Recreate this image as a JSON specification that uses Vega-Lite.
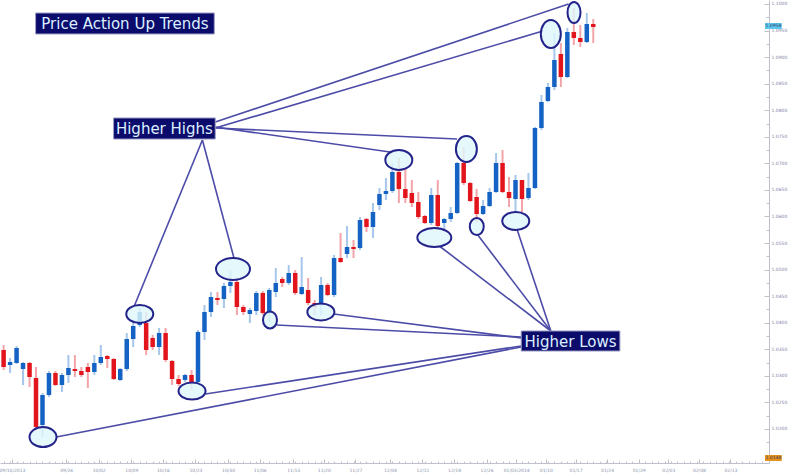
{
  "$schema": "https://vega.github.io/schema/vega-lite/v6.json",
  "width": 769,
  "height": 463,
  "autosize": "none",
  "padding": {"left": 0, "top": 0, "right": 37, "bottom": 12},
  "background": "white",
  "config": {
    "view": {"stroke": null},
    "axis": {"grid": false, "domainColor": "#c0c0cc", "tickColor": "#c0c0cc", "labelFont": "DejaVu Sans", "labelFontSize": 4.5, "title": null}
  },
  "resolve": {"axis": {"x": "independent", "y": "independent"}},
  "datasets": {
    "candles": [
      {"day":1,"open":1.03486,"high":1.03580,"low":1.03110,"close":1.03166},
      {"day":2,"open":1.03204,"high":1.03336,"low":1.03053,"close":1.03260},
      {"day":3,"open":1.03242,"high":1.03562,"low":1.03223,"close":1.03524},
      {"day":4,"open":1.03129,"high":1.03260,"low":1.02827,"close":1.03242},
      {"day":5,"open":1.03242,"high":1.03260,"low":1.02790,"close":1.02978},
      {"day":6,"open":1.02959,"high":1.03166,"low":1.02018,"close":1.02037},
      {"day":7,"open":1.02074,"high":1.02677,"low":1.01848,"close":1.02639},
      {"day":8,"open":1.02639,"high":1.03091,"low":1.02602,"close":1.03053},
      {"day":9,"open":1.03053,"high":1.03091,"low":1.02809,"close":1.02827},
      {"day":10,"open":1.02827,"high":1.03053,"low":1.02696,"close":1.03016},
      {"day":11,"open":1.03016,"high":1.03392,"low":1.02865,"close":1.03147},
      {"day":12,"open":1.03129,"high":1.03392,"low":1.02978,"close":1.03091},
      {"day":13,"open":1.03091,"high":1.03166,"low":1.02978,"close":1.03016},
      {"day":14,"open":1.03166,"high":1.03242,"low":1.02771,"close":1.03072},
      {"day":15,"open":1.03072,"high":1.03392,"low":1.03016,"close":1.03242},
      {"day":16,"open":1.03242,"high":1.03580,"low":1.03204,"close":1.03355},
      {"day":17,"open":1.03373,"high":1.03392,"low":1.03147,"close":1.03317},
      {"day":18,"open":1.03317,"high":1.03336,"low":1.02922,"close":1.02940},
      {"day":19,"open":1.02922,"high":1.03147,"low":1.02903,"close":1.03129},
      {"day":20,"open":1.03129,"high":1.03806,"low":1.03091,"close":1.03693},
      {"day":21,"open":1.03693,"high":1.04051,"low":1.03543,"close":1.03938},
      {"day":22,"open":1.03957,"high":1.04277,"low":1.03919,"close":1.04202},
      {"day":23,"open":1.03995,"high":1.04202,"low":1.03392,"close":1.03486},
      {"day":24,"open":1.03712,"high":1.03769,"low":1.03486,"close":1.03543},
      {"day":25,"open":1.03543,"high":1.03900,"low":1.03392,"close":1.03806},
      {"day":26,"open":1.03806,"high":1.03900,"low":1.03260,"close":1.03298},
      {"day":27,"open":1.03279,"high":1.03298,"low":1.02827,"close":1.02940},
      {"day":28,"open":1.02940,"high":1.03016,"low":1.02809,"close":1.02846},
      {"day":29,"open":1.02922,"high":1.03034,"low":1.02884,"close":1.03016},
      {"day":30,"open":1.03016,"high":1.03110,"low":1.02733,"close":1.02884},
      {"day":31,"open":1.02884,"high":1.03863,"low":1.02865,"close":1.03825},
      {"day":32,"open":1.03825,"high":1.04333,"low":1.03675,"close":1.04202},
      {"day":33,"open":1.04202,"high":1.04578,"low":1.04108,"close":1.04484},
      {"day":34,"open":1.04465,"high":1.04578,"low":1.04333,"close":1.04428},
      {"day":35,"open":1.04446,"high":1.04748,"low":1.04277,"close":1.04691},
      {"day":36,"open":1.04691,"high":1.04992,"low":1.04559,"close":1.04766},
      {"day":37,"open":1.04766,"high":1.04861,"low":1.04145,"close":1.04296},
      {"day":38,"open":1.04296,"high":1.04333,"low":1.04145,"close":1.04202},
      {"day":39,"open":1.04164,"high":1.04277,"low":1.03995,"close":1.04239},
      {"day":40,"open":1.04220,"high":1.04597,"low":1.04145,"close":1.04559},
      {"day":41,"open":1.04559,"high":1.04597,"low":1.04145,"close":1.04183},
      {"day":42,"open":1.04183,"high":1.04653,"low":1.04013,"close":1.04616},
      {"day":43,"open":1.04578,"high":1.05030,"low":1.04484,"close":1.04748},
      {"day":44,"open":1.04823,"high":1.04861,"low":1.04672,"close":1.04748},
      {"day":45,"open":1.04748,"high":1.05086,"low":1.04710,"close":1.04936},
      {"day":46,"open":1.04936,"high":1.04992,"low":1.04522,"close":1.04559},
      {"day":47,"open":1.04540,"high":1.05237,"low":1.04522,"close":1.04672},
      {"day":48,"open":1.04616,"high":1.04842,"low":1.04333,"close":1.04371},
      {"day":49,"open":1.04371,"high":1.04428,"low":1.04145,"close":1.04296},
      {"day":50,"open":1.04333,"high":1.04861,"low":1.04145,"close":1.04710},
      {"day":51,"open":1.04710,"high":1.04748,"low":1.04503,"close":1.04522},
      {"day":52,"open":1.04522,"high":1.05275,"low":1.04484,"close":1.05218},
      {"day":53,"open":1.05218,"high":1.05689,"low":1.05124,"close":1.05143},
      {"day":54,"open":1.05293,"high":1.05821,"low":1.05218,"close":1.05425},
      {"day":55,"open":1.05425,"high":1.05557,"low":1.05218,"close":1.05388},
      {"day":56,"open":1.05406,"high":1.05990,"low":1.05369,"close":1.05934},
      {"day":57,"open":1.05952,"high":1.05971,"low":1.05708,"close":1.05802},
      {"day":58,"open":1.05802,"high":1.06254,"low":1.05595,"close":1.06084},
      {"day":59,"open":1.06216,"high":1.06536,"low":1.06122,"close":1.06423},
      {"day":60,"open":1.06423,"high":1.06724,"low":1.06310,"close":1.06479},
      {"day":61,"open":1.06479,"high":1.07007,"low":1.06442,"close":1.06837},
      {"day":62,"open":1.06837,"high":1.07101,"low":1.06254,"close":1.06517},
      {"day":63,"open":1.06517,"high":1.06912,"low":1.06254,"close":1.06348},
      {"day":64,"open":1.06442,"high":1.06687,"low":1.06178,"close":1.06254},
      {"day":65,"open":1.06272,"high":1.06461,"low":1.05952,"close":1.05990},
      {"day":66,"open":1.06009,"high":1.06028,"low":1.05858,"close":1.05877},
      {"day":67,"open":1.05877,"high":1.06536,"low":1.05839,"close":1.06404},
      {"day":68,"open":1.06404,"high":1.06687,"low":1.05764,"close":1.05821},
      {"day":69,"open":1.05877,"high":1.05971,"low":1.05745,"close":1.05952},
      {"day":70,"open":1.05952,"high":1.06178,"low":1.05896,"close":1.06065},
      {"day":71,"open":1.06065,"high":1.07025,"low":1.06046,"close":1.07007},
      {"day":72,"open":1.07007,"high":1.07308,"low":1.06592,"close":1.06630},
      {"day":73,"open":1.06630,"high":1.06649,"low":1.06272,"close":1.06291},
      {"day":74,"open":1.06367,"high":1.06517,"low":1.05896,"close":1.06046},
      {"day":75,"open":1.06046,"high":1.06310,"low":1.06028,"close":1.06197},
      {"day":76,"open":1.06197,"high":1.06536,"low":1.06178,"close":1.06461},
      {"day":77,"open":1.06461,"high":1.07195,"low":1.06442,"close":1.07007},
      {"day":78,"open":1.07007,"high":1.07251,"low":1.06442,"close":1.06461},
      {"day":79,"open":1.06461,"high":1.06743,"low":1.06178,"close":1.06348},
      {"day":80,"open":1.06329,"high":1.06781,"low":1.06084,"close":1.06687},
      {"day":81,"open":1.06687,"high":1.06687,"low":1.06084,"close":1.06329},
      {"day":82,"open":1.06348,"high":1.06818,"low":1.06310,"close":1.06536},
      {"day":83,"open":1.06536,"high":1.07684,"low":1.06517,"close":1.07665},
      {"day":84,"open":1.07665,"high":1.08287,"low":1.07628,"close":1.08155},
      {"day":85,"open":1.08174,"high":1.08513,"low":1.08155,"close":1.08437},
      {"day":86,"open":1.08437,"high":1.09454,"low":1.08381,"close":1.08946},
      {"day":87,"open":1.09058,"high":1.09266,"low":1.08437,"close":1.08626},
      {"day":88,"open":1.08626,"high":1.09548,"low":1.08607,"close":1.09473},
      {"day":89,"open":1.09473,"high":1.09924,"low":1.09228,"close":1.09360},
      {"day":90,"open":1.09360,"high":1.09604,"low":1.09190,"close":1.09284},
      {"day":91,"open":1.09284,"high":1.09830,"low":1.09266,"close":1.09623},
      {"day":92,"open":1.09623,"high":1.09717,"low":1.09266,"close":1.09567}
    ],
    "lines": [
      {"group":"Higher Highs","from_day":31.68,"from_price":1.07440,"to_day":21.17,"to_price":1.04315},
      {"group":"Higher Highs","from_day":31.68,"from_price":1.07440,"to_day":36.55,"to_price":1.05218},
      {"group":"Higher Highs","from_day":33.66,"from_price":1.07684,"to_day":60.62,"to_price":1.07214},
      {"group":"Higher Highs","from_day":33.66,"from_price":1.07665,"to_day":70.98,"to_price":1.07458},
      {"group":"Higher Highs","from_day":33.66,"from_price":1.07665,"to_day":84.23,"to_price":1.09491},
      {"group":"Higher Highs","from_day":33.66,"from_price":1.07778,"to_day":88.19,"to_price":1.10000},
      {"group":"Higher Lows","from_day":80.88,"from_price":1.03543,"to_day":9.13,"to_price":1.01848},
      {"group":"Higher Lows","from_day":80.88,"from_price":1.03562,"to_day":32.14,"to_price":1.02658},
      {"group":"Higher Lows","from_day":80.88,"from_price":1.03731,"to_day":43.10,"to_price":1.03957},
      {"group":"Higher Lows","from_day":80.88,"from_price":1.03712,"to_day":51.94,"to_price":1.04164},
      {"group":"Higher Lows","from_day":85.45,"from_price":1.03844,"to_day":68.24,"to_price":1.05444},
      {"group":"Higher Lows","from_day":85.45,"from_price":1.03844,"to_day":74.18,"to_price":1.05651},
      {"group":"Higher Lows","from_day":85.45,"from_price":1.03844,"to_day":80.27,"to_price":1.05745}
    ],
    "swings": [
      {"id":"L1","day":7.08,"price":1.01848},
      {"id":"L2","day":30.08,"price":1.02714},
      {"id":"H1","day":22.01,"price":1.04164},
      {"id":"H2","day":36.40,"price":1.05011},
      {"id":"L3","day":42.11,"price":1.04051},
      {"id":"L4","day":49.96,"price":1.04202},
      {"id":"H3","day":61.99,"price":1.07063},
      {"id":"L5","day":67.47,"price":1.05604},
      {"id":"H4","day":72.42,"price":1.07270},
      {"id":"L6","day":74.02,"price":1.05811},
      {"id":"L7","day":80.04,"price":1.05915},
      {"id":"H5","day":85.45,"price":1.09435},
      {"id":"H6","day":89.03,"price":1.09840}
    ],
    "labels": [
      {"label":"Price Action Up Trends","left":5.935,"right":33.51,"top":1.09830,"bottom":1.09435,"day":19.72,"price":1.09633},
      {"label":"Higher Highs","left":17.97,"right":33.66,"top":1.07854,"bottom":1.07458,"day":25.81,"price":1.07656},
      {"label":"Higher Lows","left":80.88,"right":96.11,"top":1.03844,"bottom":1.03467,"day":88.49,"price":1.03656}
    ],
    "tags": [
      {"kind":"last","label":"1.0958","left":118.5,"right":121.09,"top":1.09642,"bottom":1.09529,"day":119.8,"price":1.09585},
      {"kind":"floor","label":"1.0148","left":118.5,"right":121.09,"top":1.01510,"bottom":1.01397,"day":119.8,"price":1.01453}
    ]
  },
  "layer": [
    {
      "data": {"name": "candles"},
      "mark": {"type": "rule", "strokeWidth": 2, "clip": true},
      "encoding": {
        "x": {"field": "day", "type": "quantitative",
              "scale": {"domain": [1.2133, 118.35], "nice": false, "zero": false},
              "axis": {"orient": "bottom", "tickCount": 200,
                       "values": [2.28, 10.66, 15.68, 20.71, 25.58, 30.61, 35.64, 40.51, 45.69, 50.41, 55.29, 60.62, 65.64, 70.52, 75.54, 80.11, 84.68, 89.26, 94.13, 99.01, 103.58, 108.3, 113.17],
                       "labelExpr": "['09/10/2013','09/26','10/02','10/09','10/16','10/23','10/30','11/06','11/13','11/20','11/27','12/04','12/11','12/18','12/26','01/03/2014','01/10','01/17','01/24','01/29','02/03','02/08','02/13'][indexof([2.28, 10.66, 15.68, 20.71, 25.58, 30.61, 35.64, 40.51, 45.69, 50.41, 55.29, 60.62, 65.64, 70.52, 75.54, 80.11, 84.68, 89.26, 94.13, 99.01, 103.58, 108.3, 113.17], datum.value)]",
                       "tickSize": -4, "labelPadding": 8, "labelColor": "#8a92aa", "labelFlush": false, "labelOverlap": false, "labelBound": false}},
        "y": {"field": "low", "type": "quantitative",
              "scale": {"domain": [1.01359, 1.10075], "nice": false, "zero": false},
              "axis": {"orient": "right", "tickCount": 200,
                       "values": [1.02, 1.025, 1.03, 1.035, 1.04, 1.045, 1.05, 1.055, 1.06, 1.065, 1.07, 1.075, 1.08, 1.085, 1.09, 1.095, 1.1],
                       "format": ".4f", "tickSize": -5, "labelPadding": 7, "labelColor": "#7e7ea6", "labelFlush": false, "labelOverlap": false}},
        "y2": {"field": "high"},
        "color": {"condition": {"test": "datum.close >= datum.open", "value": "#a6c6ec"}, "value": "#f2a4a8"}
      }
    },
    {
      "data": {"name": "candles"},
      "mark": {"type": "rule", "opacity": 0},
      "encoding": {
        "x": {"field": "day", "type": "quantitative",
              "axis": {"orient": "bottom", "tickCount": 300, "labels": false, "domain": false, "tickSize": -2,
                       "values": [1,2,3,4,5,6,7,8,9,10,11,12,13,14,15,16,17,18,19,20,21,22,23,24,25,26,27,28,29,30,31,32,33,34,35,36,37,38,39,40,41,42,43,44,45,46,47,48,49,50,51,52,53,54,55,56,57,58,59,60,61,62,63,64,65,66,67,68,69,70,71,72,73,74,75,76,77,78,79,80,81,82,83,84,85,86,87,88,89,90,91,92,93,94,95,96,97,98,99,100,101,102,103,104,105,106,107,108,109,110,111,112,113,114,115,116,117,118]}},
        "y": {"field": "low", "type": "quantitative",
              "axis": {"orient": "right", "tickCount": 300, "labels": false, "domain": false, "tickSize": -3,
                       "values": [1.0175, 1.0225, 1.0275, 1.0325, 1.0375, 1.0425, 1.0475, 1.0525, 1.0575, 1.0625, 1.0675, 1.0725, 1.0775, 1.0825, 1.0875, 1.0925, 1.0975]}},
        "y2": {"field": "high"}
      }
    },
    {
      "data": {"name": "candles"},
      "mark": {"type": "bar", "size": 4.5, "clip": true},
      "encoding": {
        "x": {"field": "day", "type": "quantitative", "axis": null},
        "y": {"field": "open", "type": "quantitative", "axis": null},
        "y2": {"field": "close"},
        "color": {"condition": {"test": "datum.close >= datum.open", "value": "#1463c4"}, "value": "#e3151c"}
      }
    },
    {
      "data": {"name": "lines"},
      "mark": {"type": "rule", "strokeWidth": 1.6, "color": "#4c4ca8"},
      "encoding": {
        "x": {"field": "from_day", "type": "quantitative", "axis": null},
        "x2": {"field": "to_day"},
        "y": {"field": "from_price", "type": "quantitative", "axis": null},
        "y2": {"field": "to_price"}
      }
    },
    {
      "data": {"name": "swings"},
      "mark": {"type": "point", "filled": true, "fill": "#dff6fb", "fillOpacity": 0.82, "stroke": "#23238a", "strokeWidth": 2, "opacity": 1},
      "encoding": {
        "x": {"field": "day", "type": "quantitative", "axis": null},
        "y": {"field": "price", "type": "quantitative", "axis": null},
        "size": {"value": 4},
        "shape": {"field": "id", "type": "nominal", "legend": null,
                  "scale": {"domain": ["L1","L2","H1","H2","L3","L4","H3","L5","H4","L6","L7","H5","H6"],
                            "range": [
                              "M-13.5,0A13.5,10,0,1,0,13.5,0A13.5,10,0,1,0,-13.5,0Z",
                              "M-13.5,0A13.5,8.5,0,1,0,13.5,0A13.5,8.5,0,1,0,-13.5,0Z",
                              "M-13.5,0A13.5,9,0,1,0,13.5,0A13.5,9,0,1,0,-13.5,0Z",
                              "M-17,0A17,11,0,1,0,17,0A17,11,0,1,0,-17,0Z",
                              "M-7,0A7,8.5,0,1,0,7,0A7,8.5,0,1,0,-7,0Z",
                              "M-13.5,0A13.5,8.5,0,1,0,13.5,0A13.5,8.5,0,1,0,-13.5,0Z",
                              "M-13.5,0A13.5,10,0,1,0,13.5,0A13.5,10,0,1,0,-13.5,0Z",
                              "M-17,0A17,9.5,0,1,0,17,0A17,9.5,0,1,0,-17,0Z",
                              "M-10.5,0A10.5,13,0,1,0,10.5,0A10.5,13,0,1,0,-10.5,0Z",
                              "M-7,0A7,8.5,0,1,0,7,0A7,8.5,0,1,0,-7,0Z",
                              "M-13.5,0A13.5,9,0,1,0,13.5,0A13.5,9,0,1,0,-13.5,0Z",
                              "M-10,0A10,14,0,1,0,10,0A10,14,0,1,0,-10,0Z",
                              "M-6.5,0A6.5,10.5,0,1,0,6.5,0A6.5,10.5,0,1,0,-6.5,0Z"
                            ]}}
      }
    },
    {
      "data": {"name": "labels"},
      "mark": {"type": "rect", "fill": "#0b0b6c", "stroke": "#9c9cc4", "strokeWidth": 1},
      "encoding": {
        "x": {"field": "left", "type": "quantitative", "axis": null},
        "x2": {"field": "right"},
        "y": {"field": "top", "type": "quantitative", "axis": null},
        "y2": {"field": "bottom"}
      }
    },
    {
      "data": {"name": "labels"},
      "mark": {"type": "text", "font": "DejaVu Sans", "fontSize": 15, "color": "#dcefff", "align": "center", "baseline": "middle", "dy": 1},
      "encoding": {
        "x": {"field": "day", "type": "quantitative", "axis": null},
        "y": {"field": "price", "type": "quantitative", "axis": null},
        "text": {"field": "label"}
      }
    },
    {
      "data": {"name": "tags"},
      "mark": {"type": "rect"},
      "encoding": {
        "x": {"field": "left", "type": "quantitative", "axis": null},
        "x2": {"field": "right"},
        "y": {"field": "top", "type": "quantitative", "axis": null},
        "y2": {"field": "bottom"},
        "color": {"field": "kind", "type": "nominal", "legend": null,
                  "scale": {"domain": ["last", "floor"], "range": ["#5cc8f0", "#e6931e"]}}
      }
    },
    {
      "data": {"name": "tags"},
      "mark": {"type": "text", "font": "DejaVu Sans", "fontSize": 4.5, "color": "#3a3a60", "align": "center", "baseline": "middle"},
      "encoding": {
        "x": {"field": "day", "type": "quantitative", "axis": null},
        "y": {"field": "price", "type": "quantitative", "axis": null},
        "text": {"field": "label"}
      }
    }
  ]
}
